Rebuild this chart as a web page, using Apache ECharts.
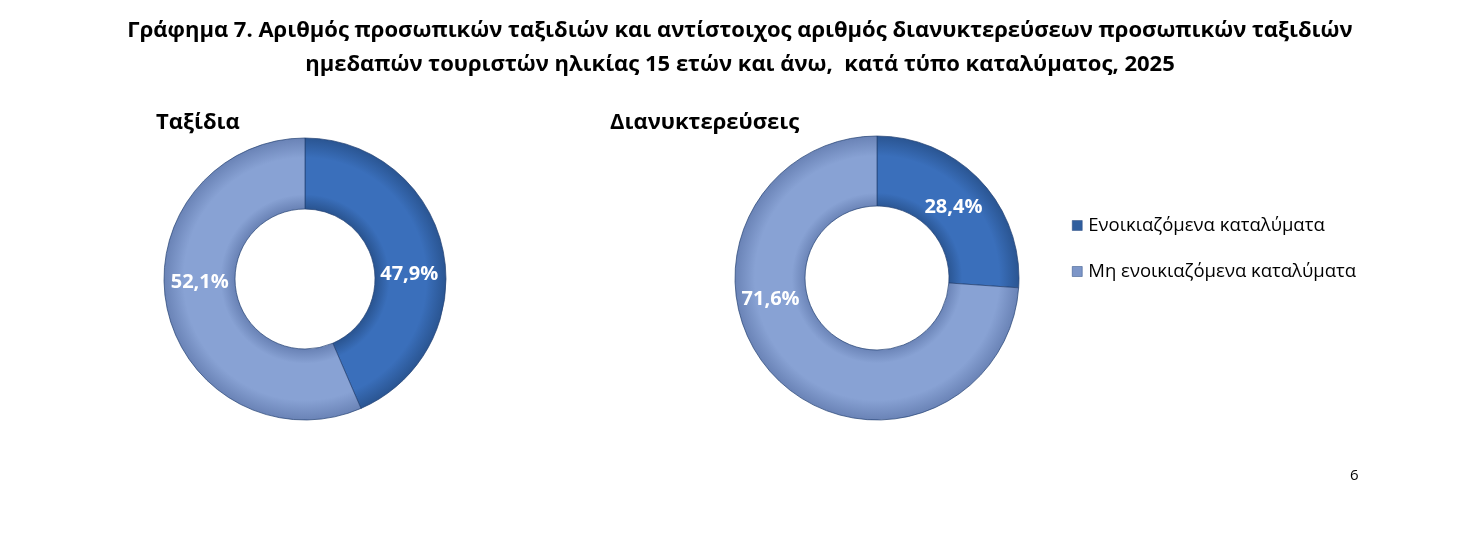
<!DOCTYPE html>
<html><head><meta charset="utf-8">
<script src="https://cdn.jsdelivr.net/npm/echarts@6/dist/echarts.min.js"></script>
<style>html,body{margin:0;padding:0;background:#fff}#c{width:1482px;height:534px}</style>
</head><body><div id="c"></div>
<script>
const mainTitle = 'Γράφημα 7. Αριθμός προσωπικών ταξιδιών και αντίστοιχος αριθμός διανυκτερεύσεων προσωπικών ταξιδιών\nημεδαπών τουριστών ηλικίας 15 ετών και άνω,  κατά τύπο καταλύματος, 2025';
const categories = ['Ενοικιαζόμενα καταλύματα', 'Μη ενοικιαζόμενα καταλύματα'];
// printed percentage labels
const tripsLabels = ['47,9%', '52,1%'];
const nightsLabels = ['28,4%', '71,6%'];
const tripsValues = [43.5, 56.5];
const nightsValues = [26.1, 73.9];
const chartTitles = ['Ταξίδια', 'Διανυκτερεύσεις'];
const pageNumber = '6';

const FONT = '"Open Sans", "Noto Sans", sans-serif';
const chart = echarts.init(document.getElementById('c'), null, {renderer: 'canvas'});

function ringGrad(cx, cy, r, edge, mid) {
  return {
    type: 'radial', x: cx, y: cy, r: r, global: true,
    colorStops: [
      {offset: 0, color: edge},
      {offset: 0.5, color: edge},
      {offset: 0.6, color: mid},
      {offset: 0.86, color: mid},
      {offset: 1, color: edge}
    ]
  };
}
const darkPal = {edge: '#2a5592', mid: '#3a6fbb'};
const lightPal = {edge: '#6a83b6', mid: '#88a2d4'};

function makePie(values, labels, cx, cy, r, ri, offsets) {
  return {
    type: 'pie',
    center: [cx, cy],
    radius: [ri, r],
    startAngle: 90,
    clockwise: true,
    silent: true,
    animation: false,
    labelLine: {show: false},
    data: values.map((v, i) => {
      const pal = i === 0 ? darkPal : lightPal;
      return {
        name: categories[i],
        value: v,
        itemStyle: {
          color: ringGrad(cx, cy, r, pal.edge, pal.mid),
          borderColor: 'rgba(35,65,115,0.7)',
          borderWidth: 1
        },
        label: {
          show: true,
          position: 'inside',
          offset: offsets[i],
          formatter: () => labels[i],
          color: '#fff',
          fontFamily: FONT,
          fontWeight: 'bold',
          fontSize: 20,
          textBorderWidth: 0
        }
      };
    })
  };
}

chart.setOption({
  backgroundColor: '#fff',
  title: [
    {text: mainTitle, left: 735, top: 9, textAlign: 'center',
     textStyle: {fontFamily: FONT, fontWeight: 'bold', fontSize: 22, lineHeight: 34, color: '#000'}},
    {text: chartTitles[0], left: 151, top: 107,
     textStyle: {fontFamily: FONT, fontWeight: 'bold', fontSize: 22, color: '#000'}},
    {text: chartTitles[1], left: 605, top: 107,
     textStyle: {fontFamily: FONT, fontWeight: 'bold', fontSize: 22, color: '#000'}},
    {text: pageNumber, left: 1345, top: 463,
     textStyle: {fontFamily: FONT, fontWeight: 'normal', fontSize: 15, color: '#000'}}
  ],
  legend: {
    orient: 'vertical',
    left: 1067, top: 211,
    itemWidth: 10, itemHeight: 10, itemGap: 27,
    icon: 'rect',
    data: categories.map((c, i) => ({name: c, itemStyle: {color: i === 0 ? '#2f5e9e' : '#7d96c8', borderColor: '#2a4a80', borderWidth: 0.5}})),
    textStyle: {fontFamily: FONT, fontSize: 18.5, color: '#000', padding: [0, 0, 0, 1]}
  },
  series: [
    makePie(tripsValues, tripsLabels, 305, 279, 141, 70, [[-2, 17], [1, -19]]),
    makePie(nightsValues, nightsLabels, 877, 278, 142, 72, [[-4, 4], [-26, -54]])
  ]
});
</script></body></html>
